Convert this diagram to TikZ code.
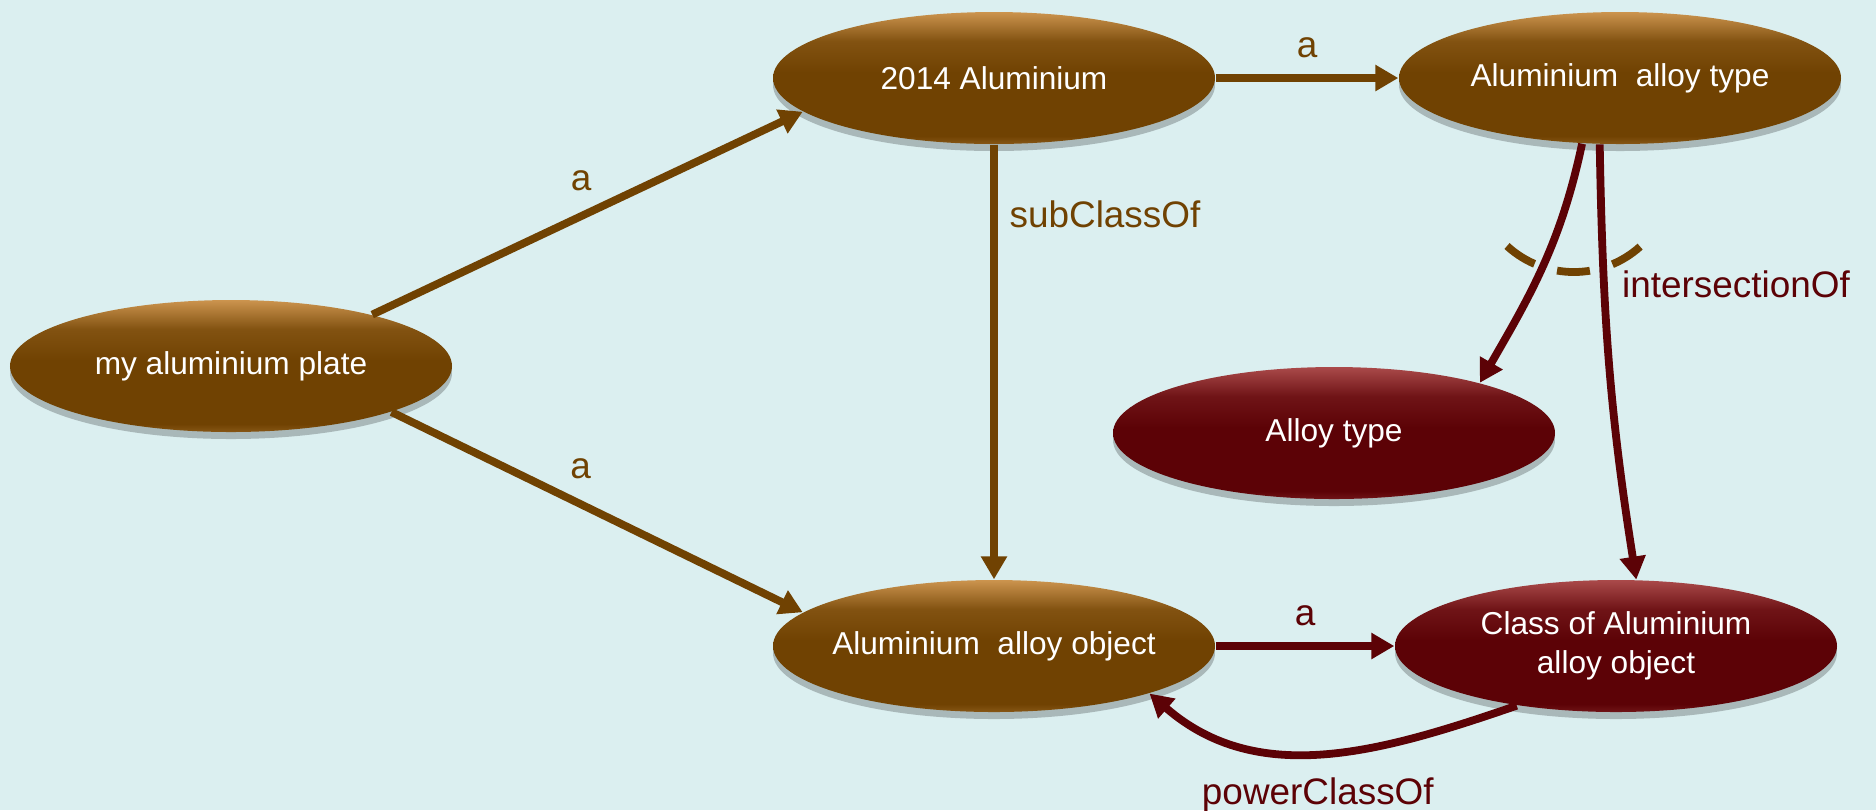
\documentclass[tikz,border=0pt]{standalone}
\usepackage{fontspec}
\setmainfont{Liberation Sans}
\usetikzlibrary{arrows.meta,shapes.geometric,shadows}
\definecolor{bgcyan}{RGB}{219,239,240}
\definecolor{brownD}{RGB}{112,66,2}
\definecolor{brownL}{RGB}{204,148,78}
\definecolor{maroonD}{RGB}{92,2,6}
\definecolor{maroonL}{RGB}{170,74,74}
\pgfdeclareverticalshading{brownglass}{100bp}{color(0bp)=(brownD); color(25bp)=(brownD!75!brownL); color(28bp)=(brownD); color(52bp)=(brownD); color(64bp)=(brownD!80!brownL); color(75bp)=(brownL); color(100bp)=(brownL)}
\pgfdeclareverticalshading{maroonglass}{100bp}{color(0bp)=(maroonD); color(25bp)=(maroonD!75!maroonL); color(28bp)=(maroonD); color(52bp)=(maroonD); color(64bp)=(maroonD!75!maroonL); color(75bp)=(maroonL); color(100bp)=(maroonL)}

\begin{document}
\begin{tikzpicture}[
	ovalnode/.style={ellipse, minimum width=4.42cm, minimum height=1.32cm, inner xsep=-6mm, inner ysep=0pt, align=center, text=white, font=\fontsize{9}{11.1}\selectfont, drop shadow={shadow xshift=0pt, shadow yshift=-0.7mm, fill=black!45!bgcyan, opacity=.5}},
	brownnode/.style={ovalnode, shade, shading=brownglass},
	rednode/.style={ovalnode, shade, shading=maroonglass},
	conn/.style={line width=0.78mm, -{Triangle[length=2.3mm, width=2.5mm]}},
	lbl/.style={font=\fontsize{10.5}{12}\selectfont},
	]
		\useasboundingbox (0, 0) rectangle (18.76, -8.10);
		\fill[bgcyan] (0, 0) rectangle (18.76, -8.10);

		\node[brownnode] (plate) at (2.31, -3.66) {my aluminium plate};
		\node[brownnode] (alu2014) at (9.94, -0.78) {2014 Aluminium};
		\node[brownnode] (alutype) at (16.20, -0.78) {Aluminium~ alloy type};
		\node[rednode] (alloytype) at (13.34, -4.33) {Alloy type};
		\node[brownnode] (aluobj) at (9.94, -6.46) {Aluminium~ alloy object};
		\node[rednode] (classobj) at (16.16, -6.46) {Class of Aluminium\\alloy object};

		\draw[conn, brownD] (plate.20) -- node[lbl, pos=.485, above=1mm] {a} (alu2014.190);
		\draw[conn, brownD] (plate.-16) -- node[lbl, pos=.46, above=1mm] {a} (aluobj.170);
		\draw[conn, brownD] (alu2014.east) -- node[lbl, above=.5mm] {a} (alutype.west);
		\draw[conn, brownD] (alu2014.south) -- node[lbl, pos=.16, right] {subClassOf} (aluobj.north);
		\draw[conn, maroonD] (aluobj.east) -- node[lbl, above=.5mm] {a} (classobj.west);
		\draw[conn, maroonD] (alutype.240) to[out=-102, in=60] (alloytype.19);
		\draw[conn, maroonD] (alutype.253) to[out=-89, in=99] (classobj.73);
		\draw[conn, maroonD] (classobj.211) to[out=199, in=-41] node[lbl, below=1mm, xshift=-0.5mm] {powerClassOf} (aluobj.-17);

		% intersection marker
		\draw[brownD, line width=0.78mm, dash pattern=on 3.3mm off 2.35mm] (15.07, -2.46) arc[start angle=227.5, end angle=312.5, radius=0.99];
		\node[lbl, text=maroonD] (isect) at (17.36, -2.84) {intersectionOf};
	\end{tikzpicture}
\end{document}
